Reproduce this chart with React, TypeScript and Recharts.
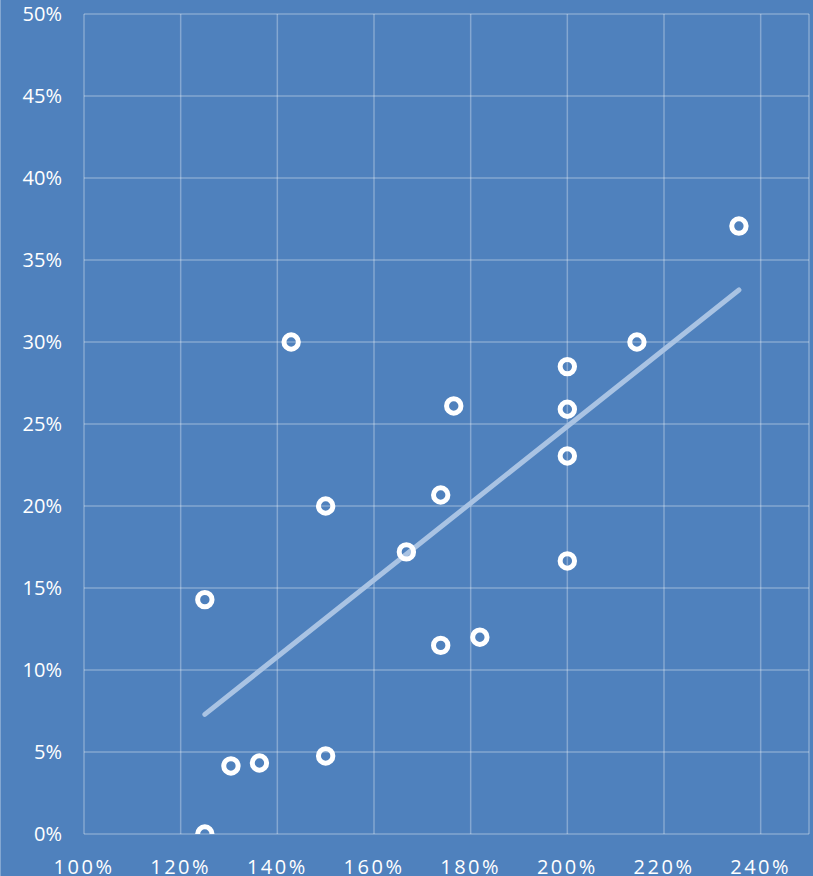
import {
  CartesianGrid,
  Scatter,
  ScatterChart,
  XAxis,
  YAxis,
} from 'recharts'

// ratio (x, %) vs rate (y, %)
const xValues = [
  125, 125, 130.4, 136.3, 142.86, 150, 150, 166.7, 173.8, 173.8, 176.5, 181.9,
  200, 200, 200, 200, 214.4, 235.5,
]
const yValues = [
  0, 14.29, 4.15, 4.33, 30, 20, 4.76, 17.2, 20.67, 11.5, 26.1, 12.0, 28.5,
  25.9, 23.05, 16.65, 30, 37.07,
]

const xTicks = [100, 120, 140, 160, 180, 200, 220, 240]
const yTicks = [0, 5, 10, 15, 20, 25, 30, 35, 40, 45, 50]

const points = xValues.map((x, i) => ({ x, y: yValues[i] }))

// least squares trend line, from the points above
const n = points.length
const mx = xValues.reduce((a, b) => a + b, 0) / n
const my = yValues.reduce((a, b) => a + b, 0) / n
let sxy = 0
let sxx = 0
points.forEach((p) => {
  sxy += (p.x - mx) * (p.y - my)
  sxx += (p.x - mx) * (p.x - mx)
})
const slope = sxy / sxx
const xMin = Math.min(...xValues)
const xMax = Math.max(...xValues)
const trend = [
  { x: xMin, y: my + slope * (xMin - mx) },
  { x: xMax, y: my + slope * (xMax - mx) },
]

const BG = '#4F81BD'
const GRID = 'rgba(255,255,255,0.3)'

const pct = (v: number) => `${v}%`

const Ring = (props: any) => {
  const { cx, cy } = props
  if (cx == null || cy == null) return null
  return (
    <circle cx={cx} cy={cy} r={7.2} fill="none" stroke="#fff" strokeWidth={5} />
  )
}

const NoDot = () => null

export default function App() {
  return (
    <div
      style={{
        position: 'absolute',
        left: 0,
        top: 0,
        width: 813,
        height: 876,
        background: BG,
        fontFamily: '"Open Sans", sans-serif',
        borderLeft: `1px solid ${GRID}`,
        boxSizing: 'border-box',
      }}>
      <ScatterChart
        width={812}
        height={876}
        margin={{ top: 14, right: 4, left: 0, bottom: 0 }}>
        <CartesianGrid stroke={GRID} strokeWidth={1.5} />
        <XAxis
          type="number"
          dataKey="x"
          domain={[100, 250]}
          ticks={xTicks}
          tickFormatter={pct}
          axisLine={false}
          tickLine={false}
          height={42}
          tickMargin={20}
          tick={{ fill: '#fff', fontSize: 20, letterSpacing: 2.5 }}
          allowDataOverflow
        />
        <YAxis
          type="number"
          dataKey="y"
          domain={[0, 50]}
          ticks={yTicks}
          tickFormatter={pct}
          axisLine={false}
          tickLine={false}
          width={83}
          tickMargin={16}
          tick={{ fill: '#fff', fontSize: 20 }}
          allowDataOverflow
        />
        <Scatter
          data={trend}
          line={{ stroke: '#A9C3E3', strokeWidth: 5, strokeLinecap: 'round' }}
          shape={NoDot}
          isAnimationActive={false}
        />
        <Scatter data={points} shape={Ring} isAnimationActive={false} />
      </ScatterChart>
    </div>
  )
}
